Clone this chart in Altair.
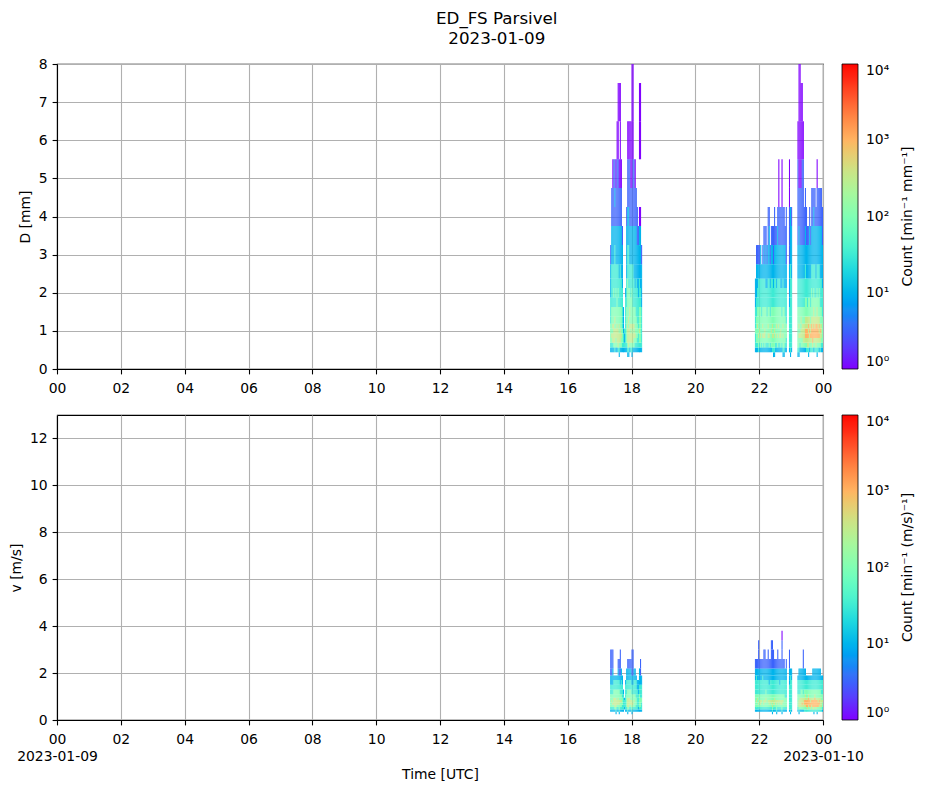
import math
import altair as alt
import pandas as pd

# ---------------- data ----------------
# Parsivel class centres used as cell edges (diameter, mm) and (fall velocity, m/s)
D_EDGES = [0.312, 0.437, 0.562, 0.687, 0.812, 0.937, 1.062, 1.187, 1.375, 1.625, 1.875,
           2.125, 2.375, 2.75, 3.25, 3.75, 4.25, 4.75, 5.5, 6.5, 7.5, 8.5]
V_EDGES = [0.15, 0.25, 0.35, 0.45, 0.55, 0.65, 0.75, 0.85, 0.95, 1.1, 1.3, 1.5, 1.7,
           1.9, 2.2, 2.6, 3.0, 3.4, 3.8, 4.4]

EVENT1_START = 17 + 20 / 60   # 17:20 UTC
EVENT2_START = 21 + 52 / 60   # 21:52 UTC
STEP_MIN = 2                  # minutes per column

# one string per 2-minute column, bottom bin first; digit k -> count 10**(k/2), '.' = no drops
D_EVENT1 = [
    ".2344443332221", ".2345444433332211", ".23554544333322110", ".24555544343322111",
    ".34555454333332121", ".24455444343322110", ".245555444333221110", ".3555544434332211100",
    "234554544333222110.0", ".2455544433332211000", ".24454444333222110", ".23444333332221",
    ".23332222", ".23223", ".2333333332", ".234444443332221",
    "2345555444443322110", "2355554544433322110", ".245555454433221110", ".345545444333221100",
    "234555544443322110000", ".24554544333322111000", ".24455544333222111", ".23454444332222110",
    ".2344444333322211", ".233444333322211", ".23334333322221", ".234454443332220..00",
    ".234444443322220..00", ".2333333322221",
]
D_EVENT2 = [
    ".23334333222", ".2344444332221", ".2344454433221", ".3445444433321",
    ".2344544433321", ".2445444433322", ".234444433332", ".2445454433321",
    ".23454444333221", ".24455444333211", ".23444444332221", ".2344444333221",
    ".234545443332211", ".244544443332221", ".2344444333221", ".24445444333221",
    ".34454544333221", "234454444332211", "2344454443332211", ".23454444333221",
    ".23444544332221", ".244544443332221", ".23444544333221100", ".234544443332211",
    ".244554443322211", ".23444443332221100", "2344545443332211", "2344444443322211",
    ".23444443332221", ".233444333322111", "", "",
    ".23333333222211100", "2333333333333222", ".233333333332221", "",
    "", "", "", "",
    "2344444443332211110", "234454544333222110000", ".23454444333221110000", ".2445545433322111000",
    ".2445554433322111100", ".245555443332211110", ".245555443332211", ".2456655443332211",
    ".345665544332211", ".35566554333221", "235565654433221", ".245565544332221",
    ".34565544333221", ".3456665444332211", ".3566655443332211", ".2456665544332221",
    ".3456655443332211", ".355666544332221", "234566655443322110", ".3456655443332211",
    ".2456565444332211", ".3455654433322211", ".2345554433322211", ".234444433322211",
]
V_EVENT1 = [
    "..23444443322111", "..23445443322111", "..23454443322211", "..23455544332",
    "..24555544332", ".234555544332", "..23455444332", "..2345554433221",
    ".23445544433211", "..23445443322111", "..234454433322", "..23344433322",
    "..23333332", "...23332", "..2333333332", "..234444433322",
    ".23455554433221", "..2455554433221", "..2345554433221", "..2345544433221",
    ".234555443322111", "..23454443322111", "..234454433322", "..234444433322",
    "..23344433332", "..2333333322", "..2233333222", "..234444433222",
    "..2344443332211", "..23334433322",
]
V_EVENT2 = [
    "..2344444333221", "..2344544333321", "..2344454333221", "..234544433322111",
    "..2344544333221", "..2345544333221", "..2344544333221", "..2344444333321",
    "..23455443332211", "..23445443332211", "..2344554433221", "..2344444333221",
    "..23445443332211", "..2345544332221", "..2344544333221", "..234554433322111",
    ".2345454433322111", "..23455443332211", "..2345554333221", "..2344544333221",
    ".23445544333221", "..23445443332211", "..2345544333221", "..2344544332221",
    "..2345544333221", ".23445544333221110", "..2344544333221", "..2344444333221",
    "..234444333322", "..2344443333221", "", "",
    "..23333333322211", ".2333333333332", "..233333333322", "",
    "", "", "", "",
    "..23444443332", ".2345554433322", "..245555433322", "..245555443322",
    "..245655443322", "..24555543332211", "..345665443322", "..345665543322",
    "..34666544332", "..35666544332", "..34566654332", "..34666544332",
    "..35665544332", "..34566544332", "..356665443322", ".2356665443322",
    "..346666543322", "..356665443322", ".2346665443322", "..346655443322",
    "..345665443322", "..345555443322", "..34555443332", "..23445443332",
]

CB_TICKS = [1, 10, 100, 1000, 10000]


def cells(columns, start, edges):
    out = []
    for c, col in enumerate(columns):
        t0 = start + c * STEP_MIN / 60
        t1 = t0 + STEP_MIN / 60
        for k, ch in enumerate(col):
            if ch == "." or k + 1 >= len(edges):
                continue
            out.append({"t0": t0, "t1": t1, "y0": edges[k], "y1": edges[k + 1],
                        "count": 10 ** (int(ch) / 2)})
    return out


df_d = pd.DataFrame(cells(D_EVENT1, EVENT1_START, D_EDGES) + cells(D_EVENT2, EVENT2_START, D_EDGES))
df_v = pd.DataFrame(cells(V_EVENT1, EVENT1_START, V_EDGES) + cells(V_EVENT2, EVENT2_START, V_EDGES))

# ---------------- style ----------------
FONT = "DejaVu Sans"
FS = 13.9
W, H = 766, 305
NCOL = 21


def rainbow_color(x):
    r = min(1.0, abs(2 * x - 0.5))
    g = math.sin(math.pi * x)
    b = max(0.0, math.cos(math.pi * x / 2))
    return "#%02x%02x%02x" % (round(r * 255), round(g * 255), round(b * 255))


RAINBOW = [rainbow_color(i / (NCOL - 1)) for i in range(NCOL)]
SUP = "['⁰','¹','²','³','⁴'][round(log(datum.value)/LN10)]"


def panel(df, ymax, yvals, ytitle, bottom):
    if bottom:
        lab = ("datum.value == 0 ? ['00', '2023-01-09'] : datum.value == 24 ? ['00', '2023-01-10'] : "
               "format(datum.value, '02d')")
    else:
        lab = "format(datum.value % 24, '02d')"
    xaxis_kw = dict(values=list(range(0, 25, 2)), labelExpr=lab, labelFlush=False,
                    labelLineHeight=17, labelPadding=8, tickSize=4.9, grid=True)
    if bottom:
        xaxis_kw["title"] = "Time [UTC]"
        xaxis_kw["titlePadding"] = 4
    else:
        xaxis_kw["title"] = None
    color_scale = alt.Scale(type="log", domain=[1, 10000], range=RAINBOW, clamp=True)
    rect = alt.Chart(df).mark_rect(clip=True).encode(
        x=alt.X("t0:Q", scale=alt.Scale(domain=[0, 24], nice=False, zero=False),
                axis=alt.Axis(**xaxis_kw)),
        x2="t1:Q",
        y=alt.Y("y0:Q", scale=alt.Scale(domain=[0, ymax], nice=False),
                axis=alt.Axis(values=yvals, title=ytitle, tickSize=4.9, labelPadding=4.9,
                              titlePadding=6, grid=True)),
        y2="y1:Q",
        color=alt.Color("count:Q", scale=color_scale,
                        legend=alt.Legend(type="gradient", title=None, orient="right",
                                          direction="vertical",
                                          gradientLength=H, gradientThickness=16,
                                          gradientStrokeColor="black", gradientStrokeWidth=0.8,
                                          values=CB_TICKS, labelExpr="'10' + " + SUP,
                                          labelFont=FONT, labelFontSize=FS, labelColor="black",
                                          labelOffset=8, offset=19)),
    ).properties(width=W, height=H)
    return rect


def cb_title(txt):
    return alt.Chart(pd.DataFrame({"a": [0]})).mark_text(
        text=txt, angle=270, font=FONT, fontSize=FS, align="center", baseline="middle", color="black"
    ).encode(x=alt.value(10), y=alt.value(H / 2)).properties(
        width=20, height=H, view=alt.ViewBackground(stroke="transparent"))


top = panel(df_d, 8, list(range(0, 9)), "D [mm]", False)
bot = panel(df_v, 13, list(range(0, 13, 2)), "v [m/s]", True)

chart = alt.concat(
    top, cb_title("Count [min⁻¹ mm⁻¹]"),
    bot, cb_title("Count [min⁻¹ (m/s)⁻¹]"),
    columns=2, spacing={"row": 17, "column": 6},
).resolve_scale(color="independent").properties(
    title=alt.TitleParams(text=["ED_FS Parsivel", "2023-01-09"], anchor="middle", fontSize=16.7,
                          font=FONT, fontWeight="normal", color="black", lineHeight=20,
                          offset=9, dx=33),
    padding={"top": 2, "left": 0, "right": 0, "bottom": 0},
).configure(font=FONT).configure_axis(
    labelFont=FONT, titleFont=FONT, labelFontSize=FS, titleFontSize=FS, titleFontWeight="normal",
    labelColor="black", titleColor="black", domainColor="black", domainWidth=1.1,
    tickColor="black", tickWidth=1.1, gridColor="#b0b0b0", gridWidth=1.1, zindex=1,
).configure_view(stroke="black", strokeWidth=1.1)

chart.save("out.html", embed_options={"renderer": "svg", "actions": False})
